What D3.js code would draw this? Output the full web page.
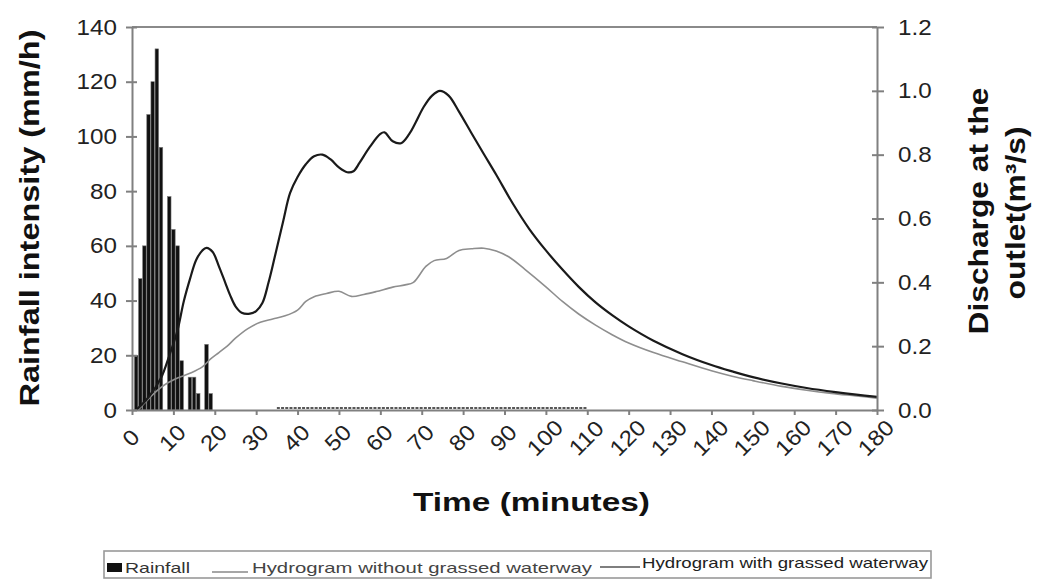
<!DOCTYPE html>
<html>
<head>
  <meta charset="utf-8">
  <script src="https://d3js.org/d3.v7.min.js"></script>
  <style type="text/css">
    body { margin: 0; background: #fff; }
    text { font-family: "Liberation Sans", Arial, sans-serif; }
    .axis path, .axis line { stroke: #808080; stroke-width: 2px; }
  </style>
</head>
<body>
<script type="text/javascript">
  "use strict";

  // rainfall bars (minute, mm/h)
  var rainMinutes = [1, 2, 3, 4, 5, 6, 7, 9, 10, 11, 12, 14, 15, 16, 18, 19];
  var rainValues  = [20, 48, 60, 108, 120, 132, 96, 78, 66, 60, 18, 12, 12, 6, 24, 6];
  // recorded period with zero rainfall (drawn as a dashed run on the axis)
  var zeroRainPeriod = [35, 110];

  // hydrogram, dark line (minutes, m3/s)
  var darkTimes = [1, 4, 7, 9, 11, 12.5, 14, 15.5, 17, 18, 19.5, 21, 22.5, 23.7, 25, 26.5, 28.5, 30, 31.5, 33, 34.5,
                   36.5, 38.2, 40, 42, 44, 46, 48, 50, 52, 53.5, 55, 57.5, 60, 61, 63, 65, 67, 68.5, 70.5, 72.5, 74.4,
                   76.5, 79, 82, 85, 88, 92, 96, 100, 104, 108, 112, 116, 120, 126, 133, 140, 145, 150, 157, 163,
                   170, 175, 180];
  var darkQ = [0, 0.04, 0.1, 0.17, 0.25, 0.34, 0.41, 0.47, 0.5, 0.508, 0.495, 0.45, 0.4, 0.36, 0.325, 0.305, 0.302,
               0.31, 0.335, 0.4, 0.48, 0.59, 0.68, 0.73, 0.77, 0.795, 0.8, 0.785, 0.76, 0.745, 0.748, 0.775, 0.825,
               0.865, 0.87, 0.842, 0.836, 0.865, 0.9, 0.95, 0.985, 1.0, 0.985, 0.935, 0.868, 0.802, 0.737, 0.647,
               0.567, 0.5, 0.44, 0.385, 0.337, 0.297, 0.262, 0.217, 0.175, 0.141, 0.121, 0.103, 0.083, 0.069,
               0.056, 0.048, 0.041];

  // hydrogram, grey line
  var greyTimes = [1.5, 4, 6, 8, 11, 14, 17, 19, 21, 23, 25, 28, 31, 34, 37, 40, 42, 44, 47, 50, 53, 56, 59, 63, 66,
                   68, 71, 73, 76, 79, 82, 85, 88, 91, 95, 100, 104, 108, 112, 116, 120, 126, 133, 140, 145, 150, 157,
                   163, 169, 175, 180];
  var greyQ = [0, 0.035, 0.06, 0.08, 0.1, 0.115, 0.135, 0.16, 0.18, 0.2, 0.225, 0.255, 0.275, 0.285, 0.295, 0.313,
               0.34, 0.355, 0.365, 0.372, 0.356, 0.362, 0.371, 0.385, 0.392, 0.4, 0.45, 0.468, 0.475, 0.5, 0.505,
               0.507, 0.498, 0.48, 0.44, 0.386, 0.34, 0.3, 0.266, 0.236, 0.21, 0.18, 0.151, 0.123, 0.106, 0.092,
               0.074, 0.062, 0.052, 0.044, 0.037];

  var xTicks = [0, 10, 20, 30, 40, 50, 60, 70, 80, 90, 100, 110, 120, 130, 140, 150, 160, 170, 180];
  var rainTicks = [0, 20, 40, 60, 80, 100, 120, 140];
  var qTicks = [0, 0.2, 0.4, 0.6, 0.8, 1.0, 1.2];

  var legendLabels = ["Rainfall", "Hydrogram without grassed waterway", "Hydrogram with grassed waterway"];

  var width = 1039, height = 579;
  var plotL = 132, plotR = 877, plotT = 27, plotB = 410;

  var svg = d3.select("body").append("svg")
      .attr("width", width)
      .attr("height", height);

  var x = d3.scaleLinear().domain([0, 180]).range([plotL, plotR]);
  var yRain = d3.scaleLinear().domain([0, 140]).range([plotB, plotT]);
  var yQ = d3.scaleLinear().domain([0, 1.2]).range([plotB, plotT]);

  // stretch a text along its reading direction
  function stretch(sel, f) {
    sel.each(function () {
      var n = d3.select(this);
      n.attr("textLength", this.getComputedTextLength() * f).attr("lengthAdjust", "spacingAndGlyphs");
    });
  }

  // top frame line
  svg.append("line")
      .attr("x1", plotL).attr("x2", plotR)
      .attr("y1", plotT).attr("y2", plotT)
      .attr("stroke", "#8a8a8a").attr("stroke-width", 2);

  // bars
  var barW = x(1) - x(0) - 0.6;
  svg.append("g").selectAll("rect")
      .data(rainMinutes)
    .enter().append("rect")
      .attr("x", function (d) { return x(d) - barW / 2; })
      .attr("y", function (d, i) { return yRain(rainValues[i]); })
      .attr("width", barW)
      .attr("height", function (d, i) { return yRain(0) - yRain(rainValues[i]); })
      .attr("fill", "#111")
      .attr("stroke", "#777")
      .attr("stroke-width", 0.6);

  svg.append("line")
      .attr("x1", x(zeroRainPeriod[0])).attr("x2", x(zeroRainPeriod[1]))
      .attr("y1", yRain(0) - 2).attr("y2", yRain(0) - 2)
      .attr("stroke", "#222").attr("stroke-width", 1.6)
      .attr("stroke-dasharray", "3,1.2");

  var line = d3.line()
      .x(function (d) { return x(d[0]); })
      .y(function (d) { return yQ(d[1]); })
      .curve(d3.curveCatmullRom.alpha(0.5));

  svg.append("path")
      .datum(greyTimes.map(function (t, i) { return [t, greyQ[i]]; }))
      .attr("d", line)
      .attr("fill", "none")
      .attr("stroke", "#8e8e8e")
      .attr("stroke-width", 1.6);

  svg.append("path")
      .datum(darkTimes.map(function (t, i) { return [t, darkQ[i]]; }))
      .attr("d", line)
      .attr("fill", "none")
      .attr("stroke", "#1a1a1a")
      .attr("stroke-width", 2.2);

  // axes
  svg.append("g").attr("class", "axis")
      .attr("transform", "translate(0," + plotB + ")")
      .call(d3.axisBottom(x).tickValues(xTicks).tickSize(5).tickSizeOuter(0).tickFormat(""));

  svg.append("g").selectAll("text")
      .data(xTicks)
    .enter().append("text")
      .attr("transform", function (d) { return "translate(" + (x(d) - 1) + ",438) rotate(-45)"; })
      .attr("text-anchor", "middle")
      .attr("dominant-baseline", "central")
      .style("font-size", "22px")
      .attr("fill", "#222")
      .text(function (d) { return d; })
      .call(stretch, 1.1);

  var gl = svg.append("g").attr("class", "axis")
      .attr("transform", "translate(" + plotL + ",0)")
      .call(d3.axisLeft(yRain).tickValues(rainTicks).tickSize(6).tickSizeOuter(0).tickPadding(9));
  gl.selectAll(".tick line").attr("x2", -6).attr("x1", 5);

  var gr = svg.append("g").attr("class", "axis")
      .attr("transform", "translate(" + plotR + ",0)")
      .call(d3.axisRight(yQ).tickValues(qTicks).tickSize(7).tickSizeOuter(0).tickPadding(14)
        .tickFormat(d3.format(".1f")));
  gr.selectAll(".tick line").attr("x1", -5);

  svg.selectAll(".axis .domain").attr("stroke", "#808080");
  [gl, gr].forEach(function (g) {
    g.selectAll(".tick text")
        .style("font-size", "22px")
        .style("font-family", "'Liberation Sans', Arial, sans-serif")
        .attr("fill", "#222")
        .call(stretch, 1.1);
  });

  // titles
  svg.append("text")
      .attr("transform", "translate(30,218) rotate(-90)")
      .attr("text-anchor", "middle")
      .attr("dominant-baseline", "central")
      .style("font-size", "27px").style("font-weight", "bold")
      .attr("fill", "#111")
      .attr("textLength", 377).attr("lengthAdjust", "spacingAndGlyphs")
      .text("Rainfall intensity (mm/h)");

  svg.append("text")
      .attr("transform", "translate(979,211) rotate(-90)")
      .attr("text-anchor", "middle")
      .attr("dominant-baseline", "central")
      .style("font-size", "27px").style("font-weight", "bold")
      .attr("fill", "#111")
      .attr("textLength", 247).attr("lengthAdjust", "spacingAndGlyphs")
      .text("Discharge at the");

  svg.append("text")
      .attr("transform", "translate(1016,213) rotate(-90)")
      .attr("text-anchor", "middle")
      .attr("dominant-baseline", "central")
      .style("font-size", "27px").style("font-weight", "bold")
      .attr("fill", "#111")
      .attr("textLength", 173).attr("lengthAdjust", "spacingAndGlyphs")
      .text("outlet(m³/s)");

  svg.append("text")
      .attr("x", 413).attr("y", 511)
      .style("font-size", "25px").style("font-weight", "bold")
      .attr("fill", "#111")
      .attr("textLength", 237).attr("lengthAdjust", "spacingAndGlyphs")
      .text("Time (minutes)");

  // legend
  var lg = svg.append("g");
  lg.append("rect")
      .attr("x", 104).attr("y", 551).attr("width", 827).attr("height", 27)
      .attr("fill", "#fff").attr("stroke", "#999").attr("stroke-width", 1.6);
  lg.append("rect")
      .attr("x", 107).attr("y", 563).attr("width", 15).attr("height", 9)
      .attr("fill", "#111");
  lg.append("text").attr("x", 125).attr("y", 573)
      .style("font-size", "15px").attr("fill", "#333")
      .attr("textLength", 65).attr("lengthAdjust", "spacingAndGlyphs")
      .text(legendLabels[0]);
  lg.append("line").attr("x1", 212).attr("x2", 248).attr("y1", 572).attr("y2", 572)
      .attr("stroke", "#888").attr("stroke-width", 1.5);
  lg.append("text").attr("x", 252).attr("y", 573)
      .style("font-size", "15px").attr("fill", "#444")
      .attr("textLength", 340).attr("lengthAdjust", "spacingAndGlyphs")
      .text(legendLabels[1]);
  lg.append("line").attr("x1", 600).attr("x2", 640).attr("y1", 567).attr("y2", 567)
      .attr("stroke", "#555").attr("stroke-width", 1.5);
  lg.append("text").attr("x", 642).attr("y", 568)
      .style("font-size", "15px").attr("fill", "#222")
      .attr("textLength", 286).attr("lengthAdjust", "spacingAndGlyphs")
      .text(legendLabels[2]);
</script>
</body>
</html>
